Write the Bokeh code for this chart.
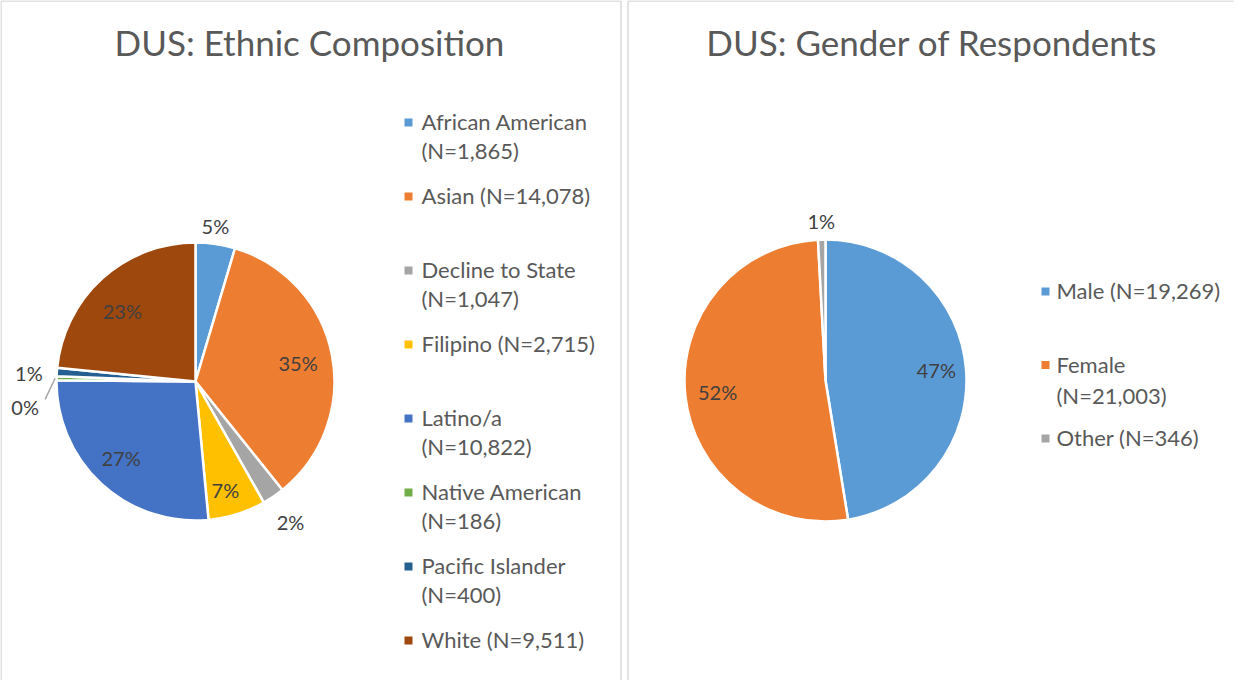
import math
from bokeh.plotting import figure
from bokeh.models import ColumnDataSource, Range1d
from bokeh.core.properties import value
from bokeh.embed import file_html
from bokeh.resources import INLINE

# ---------------- data ----------------
eth_names = ["African American", "Asian", "Decline to State", "Filipino",
             "Latino/a", "Native American", "Pacific Islander", "White"]
eth_counts = [1865, 14078, 1047, 2715, 10822, 186, 400, 9511]
eth_pct_labels = ["5%", "35%", "2%", "7%", "27%", "0%", "1%", "23%"]
eth_legend = ["African American\n(N=1,865)", "Asian  (N=14,078)",
              "Decline to State\n(N=1,047)", "Filipino (N=2,715)",
              " Latino/a\n(N=10,822)", "Native American\n(N=186)",
              "Pacific Islander\n(N=400)", "White (N=9,511)"]
eth_colors = ["#5B9BD5", "#ED7D31", "#A5A5A5", "#FFC000",
              "#4472C4", "#70AD47", "#255E91", "#9E480E"]

gen_names = ["Male", "Female", "Other"]
gen_counts = [19269, 21003, 346]
gen_pct_labels = ["47%", "52%", "1%"]
gen_legend = ["Male (N=19,269)", "Female\n(N=21,003)", "Other (N=346)"]
gen_colors = ["#5B9BD5", "#ED7D31", "#A5A5A5"]

titles = ["DUS: Ethnic Composition", "DUS:  Gender of Respondents"]

# ---------------- layout / style ----------------
FONT = "Lato"
W, H = 1234, 680
def Y(img_y):
    return 696 - img_y

p = figure(width=W, height=H, output_backend="svg", toolbar_location=None,
           x_range=Range1d(8, 8 + W), y_range=Range1d(8, 8 + H),
           x_axis_type=None, y_axis_type=None, min_border=0,
           outline_line_color=None, background_fill_color="white")
p.grid.visible = False

# panel borders
border = "#D9D9D9"
p.multi_line(xs=[[8.5, 8.5, 628.5, 628.5], [635.5, 635.5, 1242]],
             ys=[[Y(700), Y(8.5), Y(8.5), Y(700)], [Y(700), Y(8.5), Y(8.5)]],
             line_color=border, line_width=1.5)

def pie(cx, cy, r, counts, colors, pct_labels, label_r, leader=None):
    total = float(sum(counts))
    starts, ends, mids = [], [], []
    c = 0.0
    for v in counts:
        f0 = c / total
        c += v
        f1 = c / total
        starts.append(math.pi / 2 - 2 * math.pi * f0)
        ends.append(math.pi / 2 - 2 * math.pi * f1)
        mids.append(math.pi / 2 - 2 * math.pi * (f0 + f1) / 2)
    src = ColumnDataSource(dict(start=starts, end=ends, color=colors))
    p.wedge(x=cx, y=Y(cy), radius=r, start_angle="start", end_angle="end",
            direction="clock", fill_color="color", line_color="white",
            line_width=2.5, source=src)
    lx, ly = [], []
    for m, (fr, da) in zip(mids, label_r):
        a = m + math.radians(da)
        lx.append(cx + fr * r * math.cos(a))
        ly.append(Y(cy) + fr * r * math.sin(a))
    p.text(x=lx, y=ly, text=pct_labels, text_align="center",
           text_baseline="middle", text_font=value(FONT),
           text_font_size="20px", text_color="#404040")
    if leader is not None:
        i = leader
        m = mids[i]
        x0 = cx + 1.01 * r * math.cos(m)
        y0 = Y(cy) + 1.01 * r * math.sin(m)
        x1 = lx[i] + 20
        y1 = ly[i] + 8
        p.line([x0, x1], [y0, y1], line_color="#A6A6A6", line_width=1.5)

# left pie: (radius factor, angle offset in degrees) per label
pie(203, 389, 139, eth_counts, eth_colors, eth_pct_labels,
    [(1.13, 1), (0.75, -1), (1.22, 0), (0.81, -2), (0.77, -1.5),
     (1.24, 10), (1.20, 1), (0.73, 4)], leader=5)

# right pie
pie(833, 388, 141, gen_counts, gen_colors, gen_pct_labels,
    [(0.79, 1), (0.77, 0), (1.13, 0)])

# titles
p.text(x=[317, 944], y=[Y(49), Y(49)], text=titles,
       text_align="center", text_baseline="middle", text_font=value(FONT),
       text_font_size="35px", text_color="#595959")

def legend(x_sq, x_txt, c0, step, line_step, labels, colors):
    sq_y, tx, ty, tt = [], [], [], []
    for i, lab in enumerate(labels):
        c = c0 + step * i
        sq_y.append(Y(c - 1))
        for k, line in enumerate(lab.split("\n")):
            tx.append(x_txt)
            ty.append(Y(c - 2 + k * line_step))
            tt.append(line)
    p.scatter(x=[x_sq] * len(labels), y=sq_y, marker="square", size=8,
              fill_color=colors, line_color=None)
    p.text(x=tx, y=ty, text=tt, text_align="left", text_baseline="middle",
           text_font=value(FONT), text_font_size="22px", text_color="#595959")

legend(416, 429, 131, 74, 29, eth_legend, eth_colors)
legend(1053, 1064, 300, 73.5, 31, gen_legend, gen_colors)

open("out.html", "w").write(file_html(p, INLINE))
